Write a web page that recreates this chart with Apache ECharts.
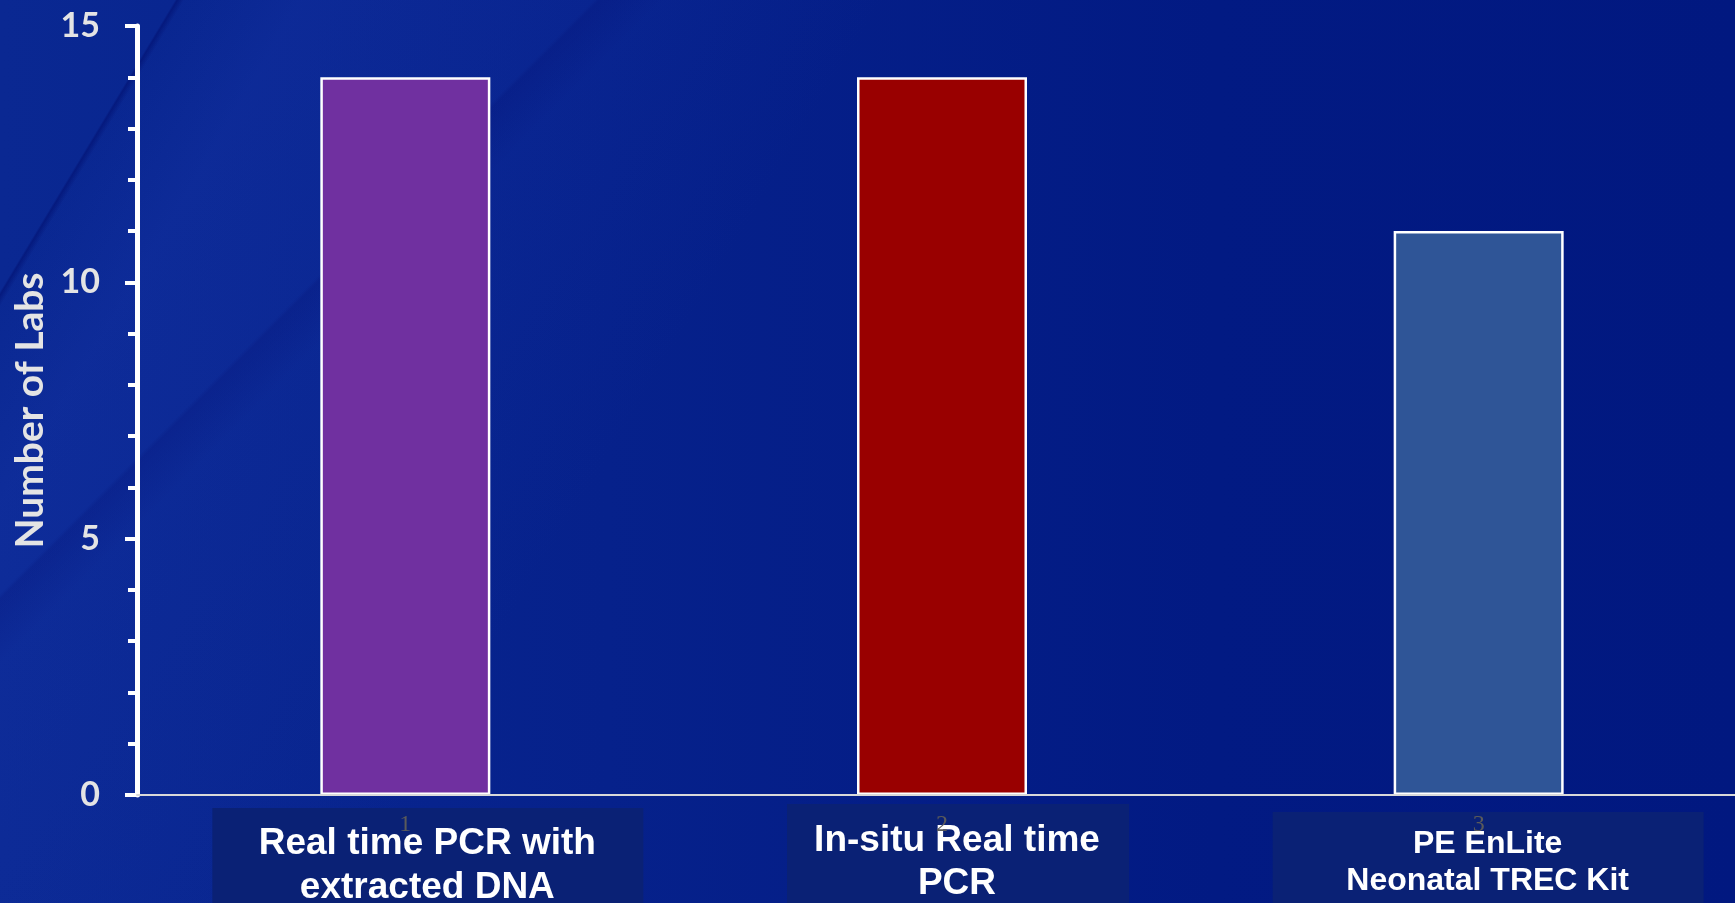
<!DOCTYPE html>
<html>
<head>
<meta charset="utf-8">
<title>Number of Labs by TREC method</title>
<script src="https://cdn.jsdelivr.net/npm/echarts@6/dist/echarts.min.js"></script>
<style>
  html, body { margin: 0; padding: 0; width: 1735px; height: 903px; overflow: hidden; background: #011880; }
  #chart {
    width: 1735px; height: 903px;
    background:
      linear-gradient(121deg, rgba(0,0,0,0) 0px, rgba(0,0,0,0) 150px, rgba(1,14,110,0.55) 152px, rgba(1,14,110,0) 158px),
      linear-gradient(121deg, rgba(30,60,180,0) 150px, rgba(30,60,180,0.22) 260px, rgba(30,60,180,0.10) 560px, rgba(30,60,180,0) 760px),
      linear-gradient(135deg, rgba(0,0,0,0) 420px, rgba(2,16,115,0.35) 424px, rgba(2,16,115,0) 470px),
      linear-gradient(90deg, #0a2892 0%, #06218b 35%, #021a83 70%, #011880 100%);
  }
</style>
</head>
<body>
<div id="chart"></div>
<script>
// Category tick labels and the method each category stands for
const categories = ['1', '2', '3'];
const methodNames = [
  'Real time PCR with\nextracted DNA',
  'In-situ Real time\nPCR',
  'PE EnLite\nNeonatal TREC Kit'
];
// Number of labs using each method
const labsCount = [14, 14, 11];
// Fill colour of each bar
const barColors = ['#7030A0', '#990000', '#2F5597'];

// Caption boxes under the axis (offsets relative to each category centre)
const captionLayout = [
  { dx: 22, boxLeft: -215, boxWidth: 431, boxTop: 808, textTop: 822, fontSize: 37, lineHeight: 44 },
  { dx: 15, boxLeft: -170, boxWidth: 342, boxTop: 804, textTop: 819, fontSize: 37, lineHeight: 43 },
  { dx: 9,  boxLeft: -215, boxWidth: 431, boxTop: 812, textTop: 826, fontSize: 32, lineHeight: 37 }
];

const chart = echarts.init(document.getElementById('chart'), null, { renderer: 'canvas' });

const option = {
  backgroundColor: 'transparent',
  animation: false,
  grid: { left: 137, right: -12, top: 26, bottom: 108, containLabel: false, outerBoundsMode: 'none' },
  xAxis: {
    type: 'category',
    data: categories,
    z: 10,
    axisLine: { show: true, lineStyle: { color: '#d9d9d9', width: 2 } },
    axisTick: { show: false },
    axisLabel: {
      color: '#5a5a5a',
      fontFamily: '"Liberation Serif", serif',
      fontSize: 24,
      margin: 18
    }
  },
  yAxis: {
    type: 'value',
    min: 0,
    max: 15,
    interval: 5,
    name: 'Number of Labs',
    nameLocation: 'middle',
    nameRotate: 90,
    nameGap: 82,
    nameTextStyle: {
      color: '#e4e4e4',
      fontFamily: 'Lato, "Open Sans", sans-serif',
      fontWeight: 'bold',
      fontSize: 39
    },
    axisLine: { show: true, lineStyle: { color: '#ffffff', width: 5 } },
    axisTick: { show: true, length: 12, lineStyle: { color: '#ffffff', width: 4 } },
    minorTick: { show: true, splitNumber: 5, length: 9, lineStyle: { color: '#ffffff', width: 4 } },
    splitLine: { show: false },
    axisLabel: {
      color: '#e4e4e4',
      fontFamily: 'Lato, "Open Sans", sans-serif',
      fontWeight: 'bold',
      fontSize: 34,
      margin: 37
    }
  },
  series: [{
    type: 'bar',
    data: labsCount.map((v, i) => ({ value: v, itemStyle: { color: barColors[i] } })),
    barWidth: 170,
    itemStyle: { borderColor: '#ffffff', borderWidth: 2.5 }
  }]
};

chart.setOption(option);

// Caption boxes placed under each category
const captionElements = [];
categories.forEach((c, i) => {
  const cx = chart.convertToPixel({ xAxisIndex: 0 }, c) + captionLayout[i].dx;
  const L = captionLayout[i];
  captionElements.push({
    type: 'rect',
    z: 2,
    silent: true,
    shape: { x: cx + L.boxLeft, y: L.boxTop, width: L.boxWidth, height: 903 - L.boxTop },
    style: { fill: '#0a2175' }
  });
  captionElements.push({
    type: 'text',
    z: 3,
    silent: true,
    x: cx,
    y: L.textTop,
    style: {
      text: methodNames[i],
      fill: '#ffffff',
      font: 'bold ' + L.fontSize + 'px "Liberation Sans", Arial, sans-serif',
      align: 'center',
      verticalAlign: 'top',
      textAlign: 'center',
      textVerticalAlign: 'top',
      lineHeight: L.lineHeight
    }
  });
});
chart.setOption({ graphic: { elements: captionElements } });
</script>
</body>
</html>
